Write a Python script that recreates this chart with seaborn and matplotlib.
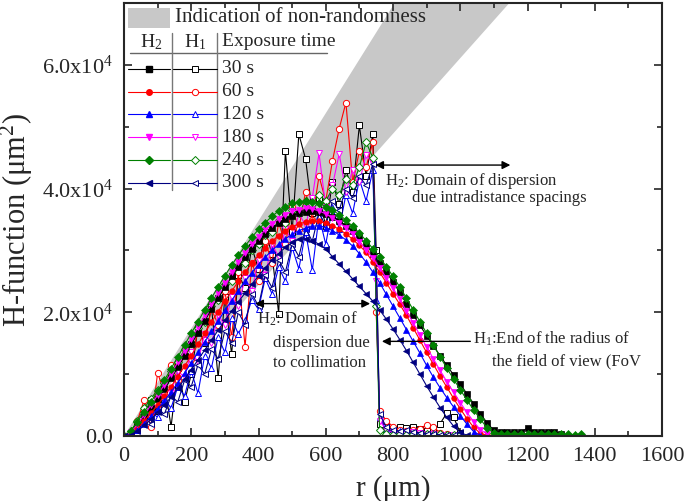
import numpy as np
import matplotlib.pyplot as plt
import seaborn as sns
from matplotlib.patches import Rectangle
from matplotlib.ticker import MultipleLocator, FixedLocator, FixedFormatter

# r grids (um)
r_h2 = np.arange(0, 1400, 20)
r_h1 = np.array(list(range(0, 760, 20)) + [750, 760] + list(range(780, 1020, 20)))

# H2 (filled markers), values in 1e3 um^2
h2_30 = [0, 0.5, 1.6, 3.0, 4.5, 6.0, 7.6, 9.3, 11.1, 12.9, 14.8, 16.7, 18.6, 20.5, 22.3, 24.1, 25.8, 27.4, 28.9, 30.3,
         31.5, 32.6, 33.6, 34.4, 35.1, 35.6, 36.0, 36.2, 36.3, 36.2, 35.9, 35.4, 34.8, 34.0, 33.1, 32.1, 30.9, 29.5, 28.0, 26.5,
         24.9, 23.2, 21.4, 19.6, 17.9, 16.2, 14.6, 13.0, 11.4, 9.9, 8.4, 6.8, 5.2, 3.6, 2.1, 0.9, 0.7, 0.6, 0.7, 0.6,
         1.3, 0.7, 0.6, 0.7, 0.6, 0.4]
h2_60 = [0, 0.3, 1.2, 2.4, 3.7, 5.0, 6.5, 8.0, 9.6, 11.3, 13.0, 14.8, 16.6, 18.4, 20.1, 21.8, 23.4, 25.0, 26.5, 27.9,
         29.2, 30.4, 31.5, 32.4, 33.2, 33.8, 34.3, 34.6, 34.8, 34.7, 34.4, 34.0, 33.4, 32.7, 31.8, 30.8, 29.7, 28.1, 26.5, 24.8,
         23.0, 21.3, 19.5, 17.5, 15.5, 13.5, 11.6, 9.7, 7.9, 6.1, 4.4, 2.8, 1.4, 0.4, 0.1]
h2_120 = [0, 0.2, 0.9, 2.0, 3.2, 4.4, 5.7, 7.1, 8.6, 10.2, 11.8, 13.5, 15.2, 16.9, 18.6, 20.3, 21.9, 23.5, 25.0, 26.4,
          27.7, 28.9, 30.0, 31.0, 31.9, 32.6, 33.2, 33.6, 33.9, 34.0, 33.7, 33.2, 32.5, 31.7, 30.7, 29.5, 28.1, 26.5, 24.8, 22.9,
          21.0, 19.1, 17.2, 15.3, 13.4, 11.4, 9.5, 7.8, 6.2, 4.7, 3.3, 1.9, 0.7, 0.1]
h2_180 = [0, 0.6, 1.9, 3.4, 5.0, 6.6, 8.3, 10.1, 11.9, 13.8, 15.7, 17.6, 19.5, 21.3, 23.1, 24.8, 26.5, 28.1, 29.6, 31.0,
          32.2, 33.3, 34.3, 35.1, 35.8, 36.3, 36.6, 36.8, 36.7, 36.4, 35.9, 35.3, 34.5, 33.6, 32.6, 31.4, 30.1, 28.7, 27.2, 25.6,
          23.9, 22.1, 20.2, 18.3, 16.3, 14.4, 12.5, 10.6, 8.8, 7.1, 5.4, 3.8, 2.3, 1.0, 0.3]
h2_240 = [0, 0.8, 2.3, 3.9, 5.5, 7.2, 9.0, 10.9, 12.8, 14.7, 16.6, 18.5, 20.4, 22.3, 24.1, 25.9, 27.6, 29.2, 30.7, 32.1,
          33.4, 34.5, 35.5, 36.4, 37.1, 37.6, 37.9, 38.0, 37.9, 37.6, 37.1, 36.5, 35.8, 34.9, 33.9, 32.8, 31.6, 30.3, 28.9, 27.4,
          25.8, 24.1, 22.3, 20.4, 18.5, 16.6, 14.7, 12.8, 11.0, 9.2, 7.5, 5.8, 4.2, 2.7, 1.3, 0.5, 0.4, 0.4, 0.3, 0.4,
          0.3, 0.3, 0.4, 0.3, 0.3, 0.3, 0.3, 0.2, 0.3]
h2_300 = [0, 0.2, 0.8, 1.7, 2.7, 3.8, 5.0, 6.3, 7.7, 9.2, 10.7, 12.3, 13.9, 15.5, 17.1, 18.7, 20.2, 21.7, 23.1, 24.5,
          25.9, 27.2, 28.4, 29.5, 30.5, 31.3, 31.8, 31.9, 31.6, 31.0, 30.2, 29.0, 27.8, 26.6, 25.4, 24.2, 23.0, 21.8, 20.4, 18.9,
          17.3, 15.6, 13.8, 11.9, 10.0, 8.1, 6.3, 4.6, 3.0, 1.6, 0.6, 0.1]

# H1 (open markers), values in 1e3 um^2
h1_30 = [0, 0.3, 1.5, 3.5, 5.8, 4.0, 8.5, 1.5, 11.0, 5.5, 10.0, 17.5, 15.0, 21.0, 9.4, 22.5, 13.2, 26.0, 24.0, 30.5,
         27.0, 33.0, 29.5, 19.8, 46.1, 33.0, 48.8, 44.8, 36.0, 38.5, 34.0, 41.0, 37.5, 43.0, 39.5, 50.2, 42.0, 48.9,
         30.0, 2.0, 1.5, 1.2, 1.5, 1.3, 1.5, 1.2, 0.8, 1.0, 2.0, 3.7, 3.1, 0.5]
h1_60 = [0, 0.5, 2.5, 5.8, 1.5, 10.2, 7.0, 11.5, 9.0, 14.0, 12.5, 17.0, 15.5, 20.5, 18.0, 23.5, 16.0, 26.5, 14.4, 28.0,
         25.0, 31.5, 28.0, 34.5, 31.0, 37.0, 33.5, 39.5, 35.0, 42.0, 38.0, 44.5, 49.7, 53.9, 41.0, 46.0, 43.5, 47.5,
         20.0, 4.0, 2.5, 1.5, 1.0, 0.8, 1.0, 1.2, 1.8, 1.5, 0.5, 0.3, 0.2, 0]
h1_120 = [0, 0.2, 1.0, 2.5, 4.0, 3.0, 6.0, 4.5, 8.0, 6.5, 10.5, 6.9, 13.0, 11.0, 16.0, 13.5, 19.0, 16.5, 18.7, 22.0,
          20.5, 25.5, 23.0, 27.3, 25.0, 30.5, 27.0, 33.0, 26.8, 35.5, 31.0, 37.0, 33.5, 39.0, 36.0, 41.5, 38.0, 43.0,
          22.0, 3.0, 1.0, 0.5, 0.8, 0.6, 0.5, 0.4, 0.3, 0.5, 0.3, 0.2, 0.1, 0]
h1_180 = [0, 0.4, 1.8, 3.2, 5.5, 4.5, 8.0, 7.0, 10.5, 9.5, 13.5, 12.0, 16.5, 15.0, 19.5, 18.0, 22.5, 21.0, 25.5, 23.5,
          28.5, 26.0, 31.0, 29.0, 33.5, 31.5, 36.0, 34.0, 38.5, 45.7, 37.0, 40.5, 45.6, 39.5, 43.0, 41.0, 45.5, 44.0,
          25.0, 2.5, 1.0, 0.6, 0.5, 0.4, 0.6, 0.5, 0.4, 0.3, 0.2, 0.2, 0.1, 0]
h1_240 = [0, 0.8, 2.5, 4.5, 6.0, 7.5, 8.5, 10.5, 12.0, 14.0, 15.0, 17.5, 18.5, 21.0, 22.0, 24.5, 25.0, 27.5, 28.0, 30.0,
          31.0, 32.5, 33.0, 35.0, 34.5, 36.5, 36.0, 38.0, 37.5, 39.0, 38.0, 40.0, 39.0, 41.5, 40.5, 43.5, 47.5, 45.0,
          21.0, 1.0, 0.3, 0.2, 0.3, 0.2, 0.3, 0.2, 0.3, 0.2, 0.3, 0.2, 0.2, 0.1]
h1_300 = [0, 0.2, 1.2, 3.0, 2.0, 4.5, 3.5, 6.5, 5.5, 9.0, 8.0, 11.5, 10.0, 14.0, 12.5, 17.0, 15.0, 20.0, 18.0, 23.0,
          21.0, 26.0, 24.0, 28.5, 26.5, 31.0, 29.0, 33.5, 31.5, 36.0, 34.0, 38.0, 36.5, 40.0, 38.5, 42.0, 40.5, 44.0,
          28.0, 3.5, 1.5, 1.0, 0.8, 1.0, 0.7, 0.5, 0.4, 0.3, 0.2, 0.2, 0.1, 0]

times = ["30 s", "60 s", "120 s", "180 s", "240 s", "300 s"]
colors = ["black", "red", "blue", "magenta", "green", "navy"]
markers = ["s", "o", "^", "v", "D", "<"]
h2_all = [h2_30, h2_60, h2_120, h2_180, h2_240, h2_300]
h1_all = [h1_30, h1_60, h1_120, h1_180, h1_240, h1_300]

# non-randomness band (um, um^2)
band_r = [0, 805, 1146]
band_h = [0, 70000, 70000]

sns.set_style("ticks")
plt.rcParams['font.family'] = ['Liberation Serif', 'DejaVu Serif']
plt.rcParams['mathtext.default'] = 'regular'

fig = plt.figure(figsize=(6.85, 5.01), dpi=100)
ax = fig.add_axes([124 / 685, 1 - 436 / 501, 538 / 685, 433 / 501])

ax.fill(band_r, band_h, color="#c8c8c8", lw=0, zorder=0)

for vals, c, m in zip(h1_all, colors, markers):
    sns.lineplot(x=r_h1[:len(vals)], y=np.array(vals) * 1000, ax=ax, color=c, lw=0.8,
                 marker=m, markersize=4.5, markerfacecolor="white", markeredgecolor=c,
                 markeredgewidth=0.7, estimator=None, sort=False)
for vals, c, m in zip(h2_all, colors, markers):
    sns.lineplot(x=r_h2[:len(vals)], y=np.array(vals) * 1000, ax=ax, color=c, lw=0.8,
                 marker=m, markersize=4, markerfacecolor=c, markeredgecolor=c,
                 markeredgewidth=0.5, estimator=None, sort=False)

ax.set_xlim(0, 1600)
ax.set_ylim(0, 70000)
ax.xaxis.set_major_locator(MultipleLocator(200))
ax.xaxis.set_minor_locator(MultipleLocator(100))
ax.yaxis.set_major_locator(FixedLocator([0, 20000, 40000, 60000]))
ax.yaxis.set_major_formatter(FixedFormatter(["0.0", "2.0x10$^4$", "4.0x10$^4$", "6.0x10$^4$"]))
ax.yaxis.set_minor_locator(MultipleLocator(10000))
ax.tick_params(which="both", direction="in", top=True, right=True, width=1.2, labelsize=16)
ax.tick_params(which="major", length=6)
ax.tick_params(which="minor", length=3.5)
ax.tick_params(axis="y", pad=8)
ax.tick_params(axis="x", pad=8)
for s in ax.spines.values():
    s.set_linewidth(1.5)

ax.set_xlabel("r (μm)", fontsize=21)
ax.set_ylabel("H-function (μm$^2$)", fontsize=22)
ax.xaxis.set_label_coords(0.5, -0.09)
ax.yaxis.set_label_coords(-0.165, 0.5)

# annotations
arr = dict(arrowstyle="<|-|>", color="black", lw=1, mutation_scale=12, shrinkA=0, shrinkB=0)
ax.annotate("", xy=(747, 43800), xytext=(1149, 43800), arrowprops=arr)
ax.text(777, 41300, "H$_2$: Domain of dispersion", fontsize=12, va="center")
ax.text(856, 38500, "due intradistance spacings", fontsize=12, va="center")

ax.annotate("", xy=(390, 21400), xytext=(732, 21400), arrowprops=arr)
ax.text(396, 19000, "H$_2$: Domain of", fontsize=12, va="center")
ax.text(443, 15000, "dispersion due", fontsize=12, va="center")
ax.text(443, 11800, "to collimation", fontsize=12, va="center")

ax.annotate("", xy=(767, 15300), xytext=(1030, 15300),
            arrowprops=dict(arrowstyle="-|>", color="black", lw=1, mutation_scale=12, shrinkA=0, shrinkB=0))
ax.text(1037, 15700, "H$_1$:End of the radius of", fontsize=12, va="center")
ax.text(1094, 12000, "the field of view (FoV", fontsize=12, va="center")

# legend table (axes coords)
T = ax.transAxes
ax.add_patch(Rectangle((0.0074, 0.942), 0.078, 0.046, transform=T, color="#c8c8c8", lw=0))
ax.text(0.0948, 0.9654, "Indication of non-randomness", transform=T, fontsize=15, va="center")
ax.text(0.0502, 0.910, "H$_2$", transform=T, fontsize=14, va="center", ha="center")
ax.text(0.132, 0.910, "H$_1$", transform=T, fontsize=14, va="center", ha="center")
ax.text(0.182, 0.910, "Exposure time", transform=T, fontsize=14, va="center")
ax.plot([0.0112, 0.3773], [0.8838, 0.8838], transform=T, color="#666666", lw=1)
for xv in [0.0887, 0.1723]:
    ax.plot([xv, xv], [0.568, 0.9307], transform=T, color="#777777", lw=1)
rows_y = [0.8476, 0.7952, 0.7430, 0.6899, 0.6374, 0.5850]
for yv, c, m, t in zip(rows_y, colors, markers, times):
    ax.plot([0.0074, 0.0855], [yv, yv], transform=T, color=c, lw=0.8)
    ax.plot([0.0465], [yv], transform=T, marker=m, ms=4, color=c)
    ax.plot([0.091, 0.1729], [yv, yv], transform=T, color=c, lw=0.8)
    ax.plot([0.132], [yv], transform=T, marker=m, ms=4.5, mfc="white", mec=c, mew=0.7)
    ax.text(0.182, yv, t, transform=T, fontsize=14, va="center")

fig.savefig("out.png", dpi=100)
